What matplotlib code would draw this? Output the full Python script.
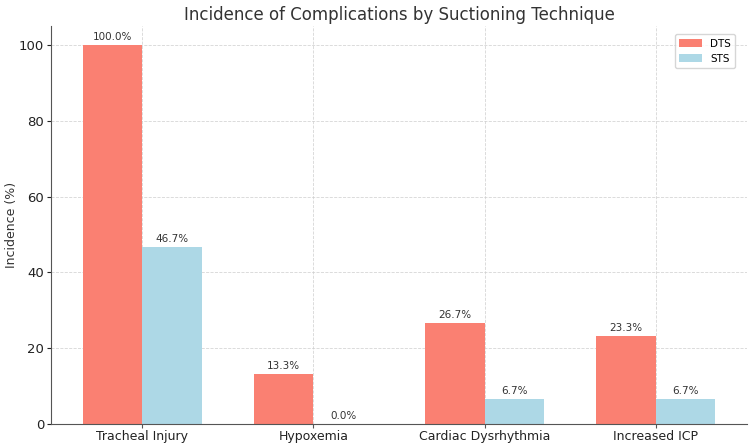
import matplotlib
matplotlib.use("Agg")
import matplotlib.pyplot as plt
import numpy as np

categories = ["Tracheal Injury", "Hypoxemia", "Cardiac Dysrhythmia", "Increased ICP"]
dts = [100.0, 13.3, 26.7, 23.3]
sts = [46.7, 0.0, 6.7, 6.7]
series_names = ["DTS", "STS"]

fig = plt.figure(figsize=(7.5, 4.44), dpi=100)
ax = fig.add_axes([51/750, 20/444, (747-51)/750, (424-26)/444])

x = np.arange(len(categories))
w = 0.35
b1 = ax.bar(x - w/2, dts, w, color="#FA8072", label=series_names[0], zorder=2)
b2 = ax.bar(x + w/2, sts, w, color="#ADD8E6", label=series_names[1], zorder=2)

for bars in (b1, b2):
    for r in bars:
        h = r.get_height()
        ax.annotate(f"{h:.1f}%", (r.get_x() + r.get_width()/2, h),
                    xytext=(0, 2), textcoords="offset points",
                    ha="center", va="bottom", fontsize=7.5, color="#333333")

ax.set_xticks(x)
ax.set_xticklabels(categories, fontsize=9, color="#222222")
ax.tick_params(axis="x", length=3, pad=1, width=0.8, color="#555555")
ax.tick_params(axis="y", labelsize=9.5, colors="#222222", length=3, pad=2, width=0.8)
ax.set_ylabel("Incidence (%)", fontsize=9, color="#333333")
ax.yaxis.set_label_coords(-0.048, 0.5)
ax.set_title("Incidence of Complications by Suctioning Technique", fontsize=12, color="#333333", pad=4)
ax.grid(True, linestyle="--", linewidth=0.6, color="#cccccc", alpha=0.8, zorder=0)
ax.set_axisbelow(True)
for s in ("top", "right"):
    ax.spines[s].set_visible(False)
for s in ("left", "bottom"):
    ax.spines[s].set_color("#555555")
ax.legend(loc="upper right", fontsize=7.5, frameon=True, handlelength=2.2,
          borderaxespad=0.8, bbox_to_anchor=(0.995, 1.0))

fig.savefig("out.png", dpi=100)
